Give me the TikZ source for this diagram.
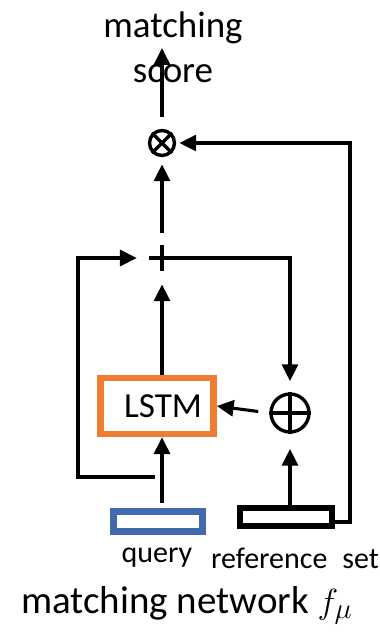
\documentclass[tikz,border=0pt]{standalone}
\usepackage{fontspec}
\setmainfont{Carlito}
\usepackage{xcolor}
\usepackage{tikz}
\usetikzlibrary{arrows.meta, positioning}
\definecolor{lstmorange}{HTML}{ED7D31}
\definecolor{queryblue}{HTML}{4169AE}

\begin{document}
\begin{tikzpicture}[x=0.025cm, y=-0.025cm, line width=2.2pt,
		arr/.style={-{Triangle[length=0.42cm, width=0.4cm]}},
		opnode/.style={circle, draw, inner sep=0pt, line width=2.4pt},
		inbox/.style={draw, line width=4.6pt, inner sep=0pt, minimum height=0.5cm}]
		\useasboundingbox (0,0) rectangle (380,633);
		% Nodes:
		\node[align=center, font=\fontsize{26.3}{32}\selectfont] (score) at (173,47) {matching\\score};
		\node[opnode, minimum size=0.625cm] (mul) at (162,143) {};
		\draw[line width=2.4pt] (mul.north east) -- (mul.south west) (mul.north west) -- (mul.south east);
		\node[minimum size=0.66cm, inner sep=0pt, outer sep=0pt] (add) at (162,258) {};
		\draw[line width=3pt] (add.north) -- (add.south) (add.west) -- (add.east);
		\node[opnode, minimum size=0.95cm] (sum) at (290,413) {};
		\draw[line width=2.4pt] (sum.north) -- (sum.south) (sum.west) -- (sum.east);
		\node[draw=lstmorange, line width=4.6pt, minimum width=2.83cm, minimum height=1.4cm, font=\fontsize{25}{28}\selectfont] (lstm) at (157,406) {\hspace{0.3cm}LSTM};
		\node[inbox, draw=queryblue, minimum width=2.225cm] (query) at (158,521.5) {};
		\node[inbox, minimum width=2.3cm, minimum height=0.45cm] (refs) at (286,517) {};
		\node[font=\fontsize{21.3}{24}\selectfont] (qlabel) at (157,558) {query};
		\node[font=\fontsize{21.3}{24}\selectfont] (rlabel) at (295,558) {reference\enspace set};
		\node[font=\fontsize{27.7}{32}\selectfont] (title) at (187,605) {matching network $f_{\mu}$};
		% Wires:
		\coordinate (out) at (162,48);
		\coordinate (qtap) at (155,477);
		\coordinate (lcorner) at (78,258);
		\coordinate (rturn) at (290,258);
		\coordinate (rcorner) at (350,522);
		\draw[arr, shorten <=0.3cm] (mul.north) -- (out);
		\draw[arr, shorten <=0.3cm, shorten >=0.18cm] (add.north) -- (mul.south);
		\draw[arr, shorten >=0.33cm] (lstm.north -| add) -- (add.south);
		\draw[arr, shorten >=0.3cm] (qtap) -| (lcorner) -- (add.west);
		\draw[arr, shorten <=0.12cm] (query.north -| add) -- (lstm.south -| add);
		\draw[arr, shorten >=0.28cm] (add.east) -- (rturn) -- (sum.north);
		\draw[arr, shorten <=0.28cm] (sum.west) -- (lstm.east);
		\draw[arr, shorten >=0.38cm] (refs.north -| sum) -- (sum.south);
		\draw[arr, shorten >=0.08cm] (refs.east |- rcorner) -- (rcorner) |- (mul.east);
	\end{tikzpicture}
\end{document}
